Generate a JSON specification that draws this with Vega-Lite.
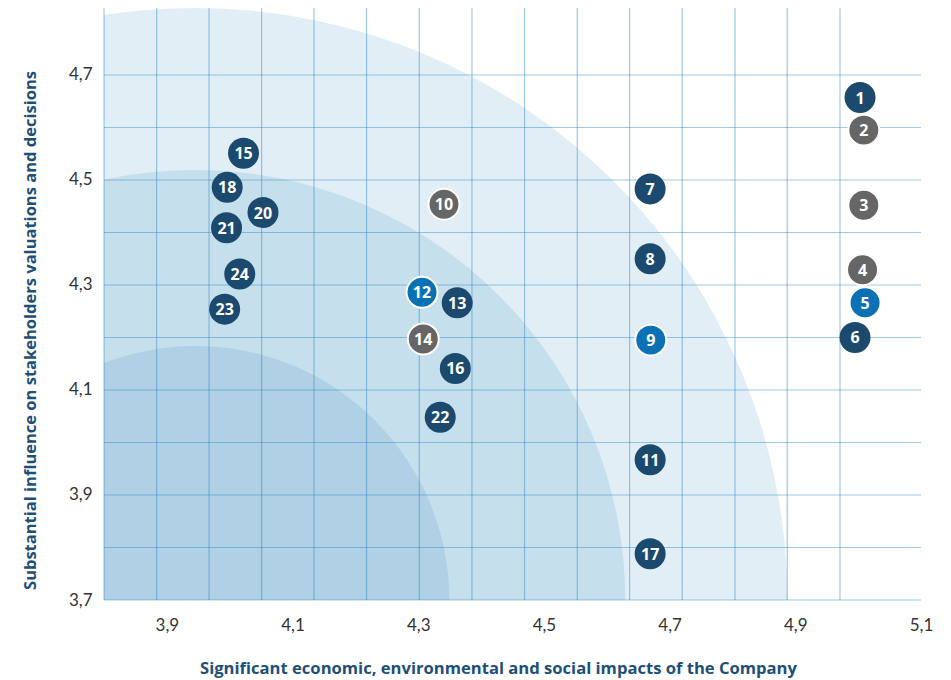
{
  "$schema": "https://vega.github.io/schema/vega-lite/v6.json",
  "width": 817,
  "height": 592,
  "autosize": {"type": "none"},
  "padding": {"left": 104, "top": 8, "right": 30, "bottom": 80},
  "background": "#ffffff",
  "config": {"view": {"stroke": null}, "font": "Lato"},
  "datasets": {
    "zones": [
      {"zone": "outer", "cx": 3.9453, "cy": 3.7, "r": 1.1276},
      {"zone": "middle", "cx": 3.9453, "cy": 3.7, "r": 0.819},
      {"zone": "inner", "cx": 3.9453, "cy": 3.7, "r": 0.4838}
    ],
    "gridx": [
      {"gx": 3.8}, {"gx": 3.8837}, {"gx": 3.9671}, {"gx": 4.0508}, {"gx": 4.1341},
      {"gx": 4.2178}, {"gx": 4.3017}, {"gx": 4.3855}, {"gx": 4.4692}, {"gx": 4.5531},
      {"gx": 4.6363}, {"gx": 4.7201}, {"gx": 4.804}, {"gx": 4.8872}, {"gx": 4.9711}
    ],
    "gridy": [
      {"gy": 3.7}, {"gy": 3.8}, {"gy": 3.9}, {"gy": 4.0}, {"gy": 4.1}, {"gy": 4.2},
      {"gy": 4.3}, {"gy": 4.4}, {"gy": 4.5}, {"gy": 4.6}, {"gy": 4.7}
    ],
    "topics": [
      {"id": 1, "impact": 5.003, "influence": 4.657, "group": "A"},
      {"id": 2, "impact": 5.009, "influence": 4.595, "group": "B"},
      {"id": 3, "impact": 5.009, "influence": 4.452, "group": "B"},
      {"id": 4, "impact": 5.007, "influence": 4.329, "group": "B"},
      {"id": 5, "impact": 5.011, "influence": 4.266, "group": "C"},
      {"id": 6, "impact": 4.995, "influence": 4.2, "group": "A"},
      {"id": 7, "impact": 4.669, "influence": 4.483, "group": "A"},
      {"id": 8, "impact": 4.669, "influence": 4.35, "group": "A"},
      {"id": 9, "impact": 4.67, "influence": 4.195, "group": "C"},
      {"id": 10, "impact": 4.341, "influence": 4.454, "group": "B"},
      {"id": 11, "impact": 4.669, "influence": 3.967, "group": "A"},
      {"id": 12, "impact": 4.306, "influence": 4.286, "group": "C"},
      {"id": 13, "impact": 4.362, "influence": 4.266, "group": "A"},
      {"id": 14, "impact": 4.308, "influence": 4.197, "group": "B"},
      {"id": 15, "impact": 4.022, "influence": 4.551, "group": "A"},
      {"id": 16, "impact": 4.359, "influence": 4.141, "group": "A"},
      {"id": 17, "impact": 4.669, "influence": 3.788, "group": "A"},
      {"id": 18, "impact": 3.996, "influence": 4.486, "group": "A"},
      {"id": 20, "impact": 4.053, "influence": 4.438, "group": "A"},
      {"id": 21, "impact": 3.995, "influence": 4.409, "group": "A"},
      {"id": 22, "impact": 4.335, "influence": 4.048, "group": "A"},
      {"id": 23, "impact": 3.992, "influence": 4.254, "group": "A"},
      {"id": 24, "impact": 4.016, "influence": 4.321, "group": "A"}
    ]
  },
  "resolve": {"scale": {"color": "independent"}},
  "layer": [
    {
      "data": {"name": "zones"},
      "mark": {"type": "arc", "clip": true, "theta": -1.5708, "theta2": 1.5708},
      "encoding": {
        "x": {
          "field": "cx", "type": "quantitative",
          "scale": {"domain": [3.8, 5.1], "nice": false, "zero": false},
          "axis": {
            "values": [3.9, 4.1, 4.3, 4.5, 4.7, 4.9, 5.1],
            "labelExpr": "replace(format(datum.value, '.1f'), '.', ',')",
            "grid": false, "ticks": false, "domain": false,
            "labelFlush": false, "labelOverlap": false,
            "labelFont": "Lato", "labelFontSize": 17, "labelColor": "#333333", "labelPadding": 17,
            "title": "Significant economic, environmental and social impacts of the Company",
            "titleFont": "Open Sans", "titleFontSize": 16.6, "titleFontWeight": "bold", "titleColor": "#1e4f78",
            "titleX": 394, "titleY": 73, "titleBaseline": "alphabetic"
          }
        },
        "y": {
          "field": "cy", "type": "quantitative",
          "scale": {"domain": [3.7, 4.8276], "nice": false, "zero": false},
          "axis": {
            "values": [3.7, 3.9, 4.1, 4.3, 4.5, 4.7],
            "labelExpr": "replace(format(datum.value, '.1f'), '.', ',')",
            "grid": false, "ticks": false, "domain": false,
            "labelFont": "Lato", "labelFontSize": 17, "labelColor": "#333333", "labelPadding": 12,
            "title": "Substantial influence on stakeholders valuations and decisions",
            "titleFont": "Open Sans", "titleFontSize": 16.5, "titleFontWeight": "bold", "titleColor": "#1e4f78",
            "titleX": -66, "titleY": 322, "titleAngle": -90, "titleBaseline": "bottom"
          }
        },
        "radius": {"field": "r", "type": "quantitative", "stack": null, "scale": {"type": "linear", "domain": [0, 1.1276], "range": [0, 592], "zero": true}},
        "color": {"field": "zone", "type": "nominal", "scale": {"domain": ["outer", "middle", "inner"], "range": ["#e1eef6", "#c6dfec", "#afd0e5"]}, "legend": null},
        "order": {"field": "r", "sort": "descending"}
      }
    },
    {
      "data": {"name": "gridx"},
      "mark": {"type": "rule", "color": "#2a87c6", "opacity": 0.45, "strokeWidth": 1.2},
      "encoding": {
        "x": {"field": "gx", "type": "quantitative", "scale": {"domain": [3.8, 5.1], "nice": false, "zero": false}}
      }
    },
    {
      "data": {"name": "gridy"},
      "mark": {"type": "rule", "color": "#2a87c6", "opacity": 0.45, "strokeWidth": 1.2},
      "encoding": {
        "y": {"field": "gy", "type": "quantitative", "scale": {"domain": [3.7, 4.8276], "nice": false, "zero": false}}
      }
    },
    {
      "data": {"name": "topics"},
      "mark": {"type": "circle", "size": 960, "opacity": 1, "strokeWidth": 2},
      "encoding": {
        "x": {"field": "impact", "type": "quantitative", "scale": {"domain": [3.8, 5.1], "nice": false, "zero": false}},
        "y": {"field": "influence", "type": "quantitative", "scale": {"domain": [3.7, 4.8276], "nice": false, "zero": false}},
        "color": {"field": "group", "type": "nominal", "scale": {"domain": ["A", "B", "C"], "range": ["#1b4a6e", "#666666", "#0a72b4"]}, "legend": null},
        "stroke": {"condition": {"test": "datum.group != 'A'", "value": "#ffffff"}, "value": null}
      }
    },
    {
      "data": {"name": "topics"},
      "mark": {"type": "text", "color": "#ffffff", "font": "Open Sans", "fontWeight": "bold", "fontSize": 16, "align": "center", "baseline": "middle", "dy": 1},
      "encoding": {
        "x": {"field": "impact", "type": "quantitative", "scale": {"domain": [3.8, 5.1], "nice": false, "zero": false}},
        "y": {"field": "influence", "type": "quantitative", "scale": {"domain": [3.7, 4.8276], "nice": false, "zero": false}},
        "text": {"field": "id", "type": "quantitative"}
      }
    }
  ]
}
